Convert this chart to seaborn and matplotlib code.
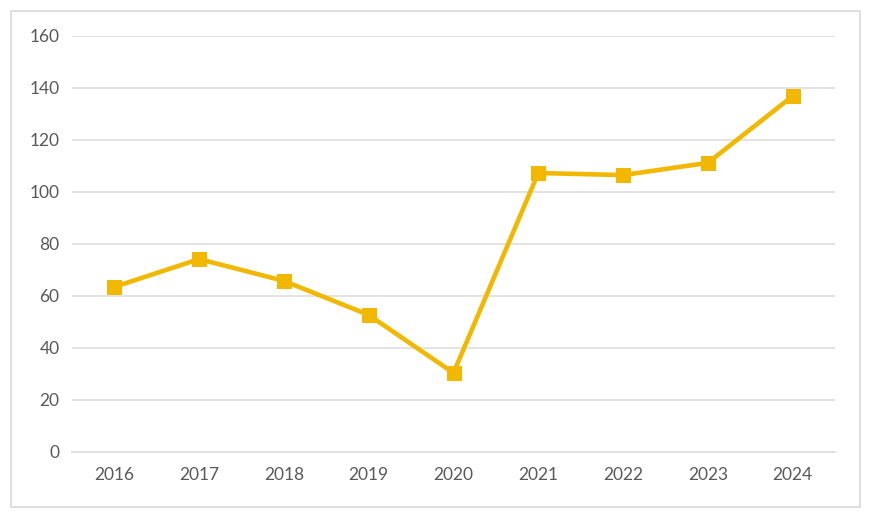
import matplotlib
matplotlib.use("Agg")
import matplotlib.pyplot as plt
import pandas as pd
import seaborn as sns
from matplotlib.patches import Rectangle

# Data
years = ["2016", "2017", "2018", "2019", "2020", "2021", "2022", "2023", "2024"]
values = [63.5, 74.2, 65.8, 52.7, 30.4, 107.3, 106.5, 111.2, 136.9]
y_ticks = [0, 20, 40, 60, 80, 100, 120, 140, 160]

LINE_COLOR = "#F2B800"
TEXT_COLOR = "#595959"
GRID_COLOR = "#E0E0E0"

sns.set_style("white")
plt.rcParams["font.family"] = ["Lato", "DejaVu Sans"]

df = pd.DataFrame({"Year": years, "Value": values})

fig = plt.figure(figsize=(8.71, 5.17), dpi=100)
ax = fig.add_axes([72 / 871, 1 - 452 / 517, (835 - 72) / 871, (452 - 36) / 517])

sns.lineplot(data=df, x="Year", y="Value", ax=ax, color=LINE_COLOR, linewidth=3.3,
             marker="s", markersize=9.5, markeredgecolor=LINE_COLOR, sort=False)

ax.set_xlim(-0.5, len(years) - 0.5)
ax.set_ylim(0, 160)
ax.set_yticks(y_ticks)
ax.set_yticklabels([str(t) for t in y_ticks])
ax.set_xlabel("")
ax.set_ylabel("")
ax.yaxis.grid(True, color=GRID_COLOR, linewidth=1.3)
ax.set_axisbelow(True)
for side in ["top", "right", "left"]:
    ax.spines[side].set_visible(False)
ax.spines["bottom"].set_color(GRID_COLOR)
ax.spines["bottom"].set_linewidth(1.3)
ax.tick_params(axis="both", length=0, labelsize=12.5, colors=TEXT_COLOR, pad=9)
ax.tick_params(axis="x", pad=11)

# outer chart frame
fig.patches.append(Rectangle((11 / 871, 1 - 507 / 517), (860 - 11) / 871, (507 - 11) / 517,
                             transform=fig.transFigure, fill=False,
                             edgecolor="#D9D9D9", linewidth=1.2))

fig.savefig("out.png", dpi=100)
